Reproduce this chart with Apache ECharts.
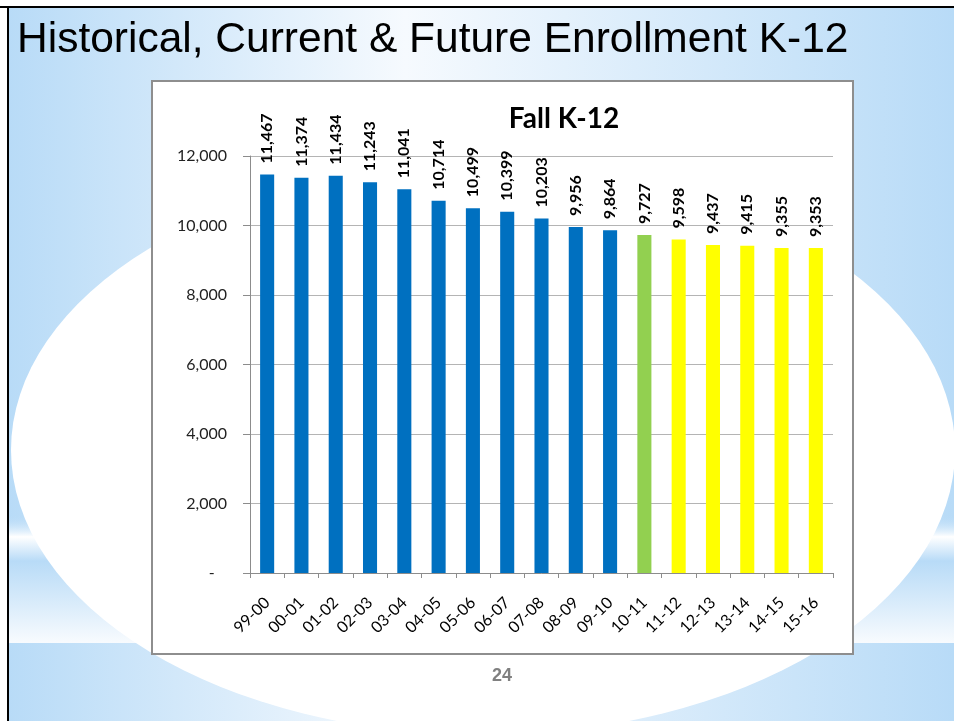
<!DOCTYPE html>
<html>
<head>
<meta charset="utf-8">
<style>
html, body { margin: 0; padding: 0; background: #fff; }
#chart { width: 954px; height: 721px; }
</style>
<script src="https://cdn.jsdelivr.net/npm/echarts@6/dist/echarts.min.js"></script>
</head>
<body>
<div id="chart"></div>
<script>
// school years, fall enrollment, and which part of the series each year is
var years = ['99-00', '00-01', '01-02', '02-03', '03-04', '04-05', '05-06', '06-07', '07-08',
    '08-09', '09-10', '10-11', '11-12', '12-13', '13-14', '14-15', '15-16'];
var enrollment = [11467, 11374, 11434, 11243, 11041, 10714, 10499, 10399, 10203,
    9956, 9864, 9727, 9598, 9437, 9415, 9355, 9353];
var phase = ['hist', 'hist', 'hist', 'hist', 'hist', 'hist', 'hist', 'hist', 'hist',
    'hist', 'hist', 'current', 'future', 'future', 'future', 'future', 'future'];
var yTicks = [0, 2000, 4000, 6000, 8000, 10000, 12000];

var phaseColor = { hist: '#0070C0', current: '#92D050', future: '#FFFF00' };

var chart = echarts.init(document.getElementById('chart'));

var barData = [];
for (var i = 0; i < enrollment.length; i++) {
    barData.push({ value: enrollment[i], itemStyle: { color: phaseColor[phase[i]] } });
}

var sideBlue = '#B8DBF7';
var bgGrad = new echarts.graphic.LinearGradient(0, 0, 1, 0, [
    { offset: 0, color: sideBlue },
    { offset: 0.42, color: '#F6FAFE' },
    { offset: 1, color: sideBlue }
]);

var option = {
    animation: false,
    title: {
        text: 'Fall K-12',
        left: 559,
        top: 100,
        textAlign: 'center',
        textStyle: { fontFamily: 'Lato', fontWeight: 'bold', fontSize: 28, color: '#000' }
    },
    graphic: [
        // slide background
        { type: 'rect', z: -20, shape: { x: 8, y: 8, width: 946, height: 713 }, style: { fill: bgGrad } },
        {
            type: 'rect', z: -19, shape: { x: 8, y: 515, width: 946, height: 128 },
            style: {
                fill: new echarts.graphic.LinearGradient(0, 0, 0, 1, [
                    { offset: 0, color: 'rgba(184,219,247,0)' },
                    { offset: 0.17, color: '#FFFFFF' },
                    { offset: 0.36, color: sideBlue },
                    { offset: 1, color: '#F8FBFE' }
                ])
            }
        },
        {
            type: 'circle', z: -18, x: 483, y: 450, scaleY: 285 / 472,
            shape: { cx: 0, cy: 0, r: 472 }, style: { fill: '#FFFFFF' }
        },
        { type: 'rect', z: -17, shape: { x: 0, y: 6, width: 954, height: 2 }, style: { fill: '#000' } },
        { type: 'rect', z: -17, shape: { x: 7, y: 6, width: 2, height: 715 }, style: { fill: '#000' } },
        {
            type: 'text', z: -16, x: 17, y: 40,
            style: {
                text: 'Historical, Current & Future Enrollment K-12',
                font: '42.5px "Liberation Sans", Arial, sans-serif',
                fill: '#000', verticalAlign: 'middle'
            }
        },
        // chart box
        {
            type: 'rect', z: -15, shape: { x: 152, y: 81, width: 701, height: 573 },
            style: { fill: '#FFFFFF', stroke: '#8E8E8E', lineWidth: 2 }
        },
        {
            type: 'text', z: -14, x: 502, y: 676,
            style: {
                text: '24', font: 'bold 18px "Liberation Sans", Arial, sans-serif',
                fill: '#808080', align: 'center', verticalAlign: 'middle'
            }
        }
    ],
    grid: { left: 250, right: 121, top: 156, bottom: 148 },
    xAxis: {
        type: 'category',
        data: years,
        axisLine: { lineStyle: { color: '#8C8C8C', width: 1 } },
        axisTick: { show: true, length: 5, lineStyle: { color: '#8C8C8C' } },
        axisLabel: {
            interval: 0, rotate: 45, margin: 27,
            fontFamily: 'Lato', fontSize: 16, color: '#000'
        }
    },
    yAxis: {
        type: 'value',
        min: yTicks[0],
        max: yTicks[yTicks.length - 1],
        interval: 2000,
        axisLine: { show: true, lineStyle: { color: '#8C8C8C', width: 1 } },
        axisTick: { show: true, length: 7, lineStyle: { color: '#8C8C8C' } },
        splitLine: { lineStyle: { color: '#B4B4B4', width: 1 } },
        axisLabel: {
            margin: 23,
            fontFamily: 'Lato', fontSize: 16, color: '#222',
            formatter: function (v) {
                if (v === 0) return '-   ';
                return v.toLocaleString('en-US');
            }
        }
    },
    series: [{
        type: 'bar',
        data: barData,
        barWidth: '41%',
        label: {
            show: true,
            position: 'top',
            rotate: 90,
            align: 'left',
            verticalAlign: 'middle',
            distance: 11,
            fontFamily: 'Lato', fontSize: 16, fontWeight: 'bold', color: '#000',
            formatter: function (p) { return p.value.toLocaleString('en-US'); }
        }
    }]
};

chart.setOption(option);
</script>
</body>
</html>
